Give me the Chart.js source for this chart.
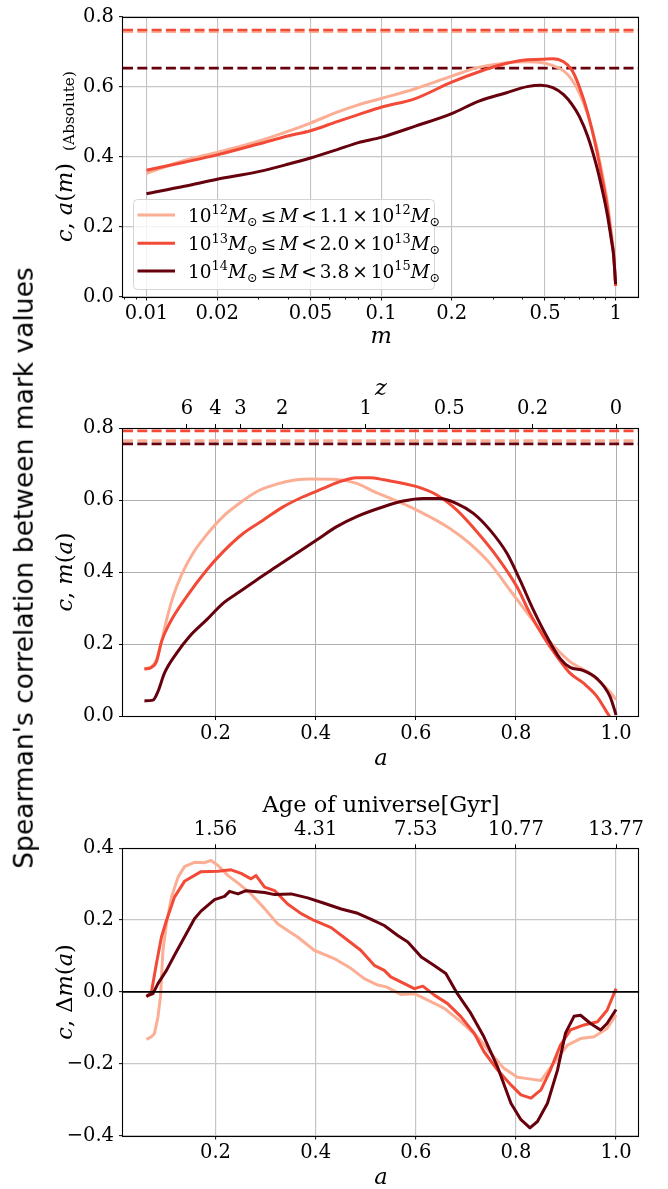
<!DOCTYPE html>
<html>
<head>
<meta charset="utf-8">
<script src="https://cdn.jsdelivr.net/npm/chart.js@4.4.1/dist/chart.umd.min.js"></script>
<style>
  html, body { margin: 0; padding: 0; background: #fff; }
  #fig { position: relative; width: 668px; height: 1189px; overflow: hidden; }
  canvas { position: absolute; left: 0; }
  #ylab { position: absolute; left: 24px; top: 568px; transform: translate(-50%, -50%) rotate(-90deg);
          font: 26.5px "DejaVu Sans"; line-height: 1; white-space: nowrap; color: #000; }
</style>
</head>
<body>
<div id="fig">
  <canvas id="c1" width="668" height="348" style="top:0"></canvas>
  <canvas id="c2" width="668" height="420" style="top:348px"></canvas>
  <canvas id="c3" width="668" height="421" style="top:768px"></canvas>
  <div id="ylab">Spearman's correlation between mark values</div>
</div>
<script>
// ---- panel 1: c, a(m) against m (log axis)
const M_GRID = [0.01, 0.0145, 0.02, 0.03, 0.04, 0.05, 0.065, 0.08, 0.1, 0.14, 0.2, 0.26, 0.34,
  0.42, 0.48, 0.54, 0.6, 0.65, 0.7, 0.76, 0.83, 0.88, 0.92, 0.96, 0.98, 1.0];
const ABS_LIGHT = [0.352, 0.389, 0.412, 0.444, 0.472, 0.496, 0.527, 0.548, 0.566, 0.594, 0.630, 0.655, 0.668,
  0.671, 0.669, 0.660, 0.645, 0.620, 0.582, 0.520, 0.428, 0.345, 0.273, 0.180, 0.128, 0.030];
const ABS_MID = [0.361, 0.384, 0.405, 0.436, 0.459, 0.474, 0.500, 0.520, 0.541, 0.566, 0.613, 0.642, 0.666,
  0.677, 0.678, 0.680, 0.671, 0.648, 0.600, 0.525, 0.418, 0.330, 0.259, 0.165, 0.120, 0.030];
const ABS_DARK = [0.294, 0.315, 0.335, 0.357, 0.378, 0.396, 0.420, 0.440, 0.455, 0.487, 0.523, 0.558, 0.582,
  0.600, 0.604, 0.597, 0.577, 0.550, 0.515, 0.458, 0.372, 0.300, 0.237, 0.160, 0.118, 0.035];
const REF_ABS = [0.757, 0.762, 0.653];
const M_LIM = [0.00794, 1.2589];
const M_TICKS = [0.01, 0.02, 0.05, 0.1, 0.2, 0.5, 1];
const M_TICK_LABELS = ['0.01', '0.02', '0.05', '0.1', '0.2', '0.5', '1'];
const M_MINOR = [0.008, 0.009, 0.03, 0.04, 0.06, 0.07, 0.08, 0.09, 0.3, 0.4, 0.6, 0.7, 0.8, 0.9];
const Y_TICKS_ABS = [0, 0.2, 0.4, 0.6, 0.8];

// ---- panel 2: c, m(a) against a
const A_M_LIGHT = [0.058, 0.072, 0.082, 0.092, 0.102, 0.115, 0.132, 0.155, 0.182, 0.215, 0.248, 0.282, 0.322, 0.362,
  0.388, 0.442, 0.482, 0.52, 0.54, 0.602, 0.668, 0.708, 0.748, 0.788, 0.828, 0.868, 0.908, 0.948, 0.988, 1.0];
const M_LIGHT = [0.132, 0.137, 0.156, 0.206, 0.266, 0.331, 0.392, 0.452, 0.503, 0.554, 0.591, 0.623, 0.644, 0.656,
  0.658, 0.657, 0.646, 0.621, 0.610, 0.572, 0.521, 0.479, 0.424, 0.350, 0.276, 0.206, 0.151, 0.118, 0.067, 0.045];
const A_M_MID = [0.058, 0.072, 0.082, 0.092, 0.108, 0.142, 0.182, 0.215, 0.255, 0.295, 0.335, 0.375, 0.415, 0.442,
  0.482, 0.508, 0.537, 0.602, 0.642, 0.682, 0.722, 0.762, 0.802, 0.828, 0.855, 0.882, 0.908, 0.935, 0.962, 0.985, 1.0];
const M_MID = [0.130, 0.135, 0.151, 0.206, 0.257, 0.331, 0.405, 0.456, 0.507, 0.544, 0.581, 0.609, 0.632, 0.648,
  0.662, 0.662, 0.656, 0.637, 0.614, 0.572, 0.512, 0.443, 0.359, 0.285, 0.220, 0.165, 0.119, 0.091, 0.054, 0.003, -0.025];
const A_M_DARK = [0.058, 0.075, 0.085, 0.098, 0.122, 0.148, 0.182, 0.215, 0.248, 0.282, 0.322, 0.362, 0.402, 0.442,
  0.482, 0.537, 0.575, 0.615, 0.648, 0.682, 0.715, 0.748, 0.782, 0.808, 0.835, 0.862, 0.888, 0.908, 0.935, 0.962, 0.988, 1.0];
const M_DARK = [0.042, 0.044, 0.068, 0.119, 0.174, 0.221, 0.267, 0.313, 0.345, 0.378, 0.415, 0.452, 0.489, 0.526,
  0.554, 0.582, 0.597, 0.604, 0.604, 0.590, 0.563, 0.517, 0.452, 0.378, 0.294, 0.220, 0.160, 0.135, 0.126, 0.104, 0.054, 0.003];
const REF_M = [0.765, 0.792, 0.756];
const Z_LABELS = ['6', '4', '3', '2', '1', '0.5', '0.2', '0'];
const Z_VALUES = [6, 4, 3, 2, 1, 0.5, 0.2, 0];

// ---- panel 3: c, Δm(a) against a
const A_D_LIGHT = [0.062, 0.072, 0.078, 0.085, 0.090, 0.095, 0.102, 0.112, 0.125, 0.138, 0.158, 0.178, 0.191, 0.205,
  0.225, 0.245, 0.271, 0.298, 0.324, 0.344, 0.364, 0.397, 0.437, 0.471, 0.497, 0.524, 0.541, 0.570, 0.597, 0.624,
  0.657, 0.690, 0.723, 0.750, 0.776, 0.803, 0.830, 0.850, 0.863, 0.883, 0.903, 0.929, 0.956, 0.982, 1.0];
const D_LIGHT = [-0.132, -0.125, -0.116, -0.070, -0.014, 0.116, 0.190, 0.264, 0.319, 0.349, 0.361, 0.360, 0.366, 0.352,
  0.324, 0.303, 0.273, 0.232, 0.190, 0.171, 0.153, 0.116, 0.093, 0.065, 0.037, 0.019, 0.014, -0.007, -0.005, -0.023,
  -0.046, -0.083, -0.125, -0.171, -0.213, -0.238, -0.243, -0.247, -0.222, -0.185, -0.148, -0.130, -0.125, -0.102, -0.064];
const A_D_MID = [0.062, 0.072, 0.082, 0.092, 0.102, 0.118, 0.138, 0.171, 0.205, 0.231, 0.251, 0.271, 0.281, 0.298,
  0.318, 0.344, 0.371, 0.397, 0.431, 0.464, 0.490, 0.517, 0.537, 0.550, 0.570, 0.597, 0.614, 0.637, 0.663, 0.690,
  0.717, 0.736, 0.763, 0.790, 0.810, 0.830, 0.850, 0.869, 0.889, 0.909, 0.936, 0.963, 0.982, 1.0];
const D_MID = [-0.014, 0.000, 0.079, 0.153, 0.199, 0.264, 0.308, 0.335, 0.336, 0.340, 0.330, 0.315, 0.324, 0.292,
  0.282, 0.245, 0.218, 0.199, 0.179, 0.144, 0.116, 0.074, 0.060, 0.042, 0.028, 0.009, 0.016, -0.009, -0.032, -0.069,
  -0.116, -0.166, -0.217, -0.259, -0.287, -0.296, -0.273, -0.217, -0.148, -0.106, -0.092, -0.083, -0.051, 0.009];
const A_D_DARK = [0.062, 0.075, 0.085, 0.102, 0.118, 0.138, 0.158, 0.171, 0.198, 0.218, 0.228, 0.245, 0.261, 0.298,
  0.318, 0.351, 0.384, 0.417, 0.451, 0.484, 0.510, 0.537, 0.564, 0.584, 0.611, 0.636, 0.660, 0.683, 0.710, 0.736,
  0.763, 0.790, 0.810, 0.828, 0.843, 0.863, 0.883, 0.899, 0.916, 0.929, 0.949, 0.969, 0.982, 1.0];
const D_DARK = [-0.012, -0.005, 0.023, 0.060, 0.102, 0.153, 0.204, 0.225, 0.257, 0.266, 0.280, 0.273, 0.282, 0.277,
  0.271, 0.273, 0.262, 0.247, 0.231, 0.219, 0.203, 0.185, 0.157, 0.139, 0.097, 0.074, 0.051, -0.005, -0.060, -0.125,
  -0.208, -0.310, -0.356, -0.379, -0.361, -0.310, -0.218, -0.115, -0.068, -0.065, -0.088, -0.106, -0.088, -0.049];
const AGE_TICK_A = [0.2, 0.4, 0.6, 0.8, 1.0];
const AGE_LABELS = ['1.56', '4.31', '7.53', '10.77', '13.77'];

const A_LIM = [0.0152, 1.046];
const A_TICKS = [0.2, 0.4, 0.6, 0.8, 1.0];
const Y_TICKS_M = [0, 0.2, 0.4, 0.6, 0.8];
const Y_TICKS_D = [-0.4, -0.2, 0, 0.2, 0.4];

// legend text bits
const LEG_LO_EXP = ['12', '13', '14'];
const LEG_HI_COEF = ['1.1', '2.0', '3.8'];
const LEG_HI_EXP = ['12', '13', '15'];

// ---- styling
const SERIF = 'DejaVu Serif';
const TICK_FONT = { family: SERIF, size: 19.5 };
const COLORS = ['#fcae95', '#f24a36', '#67000d'];
const RIGHT_PAD = 668 - 639.1;

function fixSize(px) {
  return function (scale) {
    if (scale.isHorizontal()) scale.height = px; else scale.width = px;
  };
}
function setTicks(values) {
  return function (scale) { scale.ticks = values.map(v => ({ value: v })); };
}
function fmtY(v) {
  const s = Math.abs(v).toFixed(1);
  return v < -1e-9 ? '\u2212' + s : s;
}
function curve(xs, ys, i, smooth) {
  return {
    data: xs.map((x, k) => ({ x: x, y: ys[k] })),
    borderColor: COLORS[i], borderWidth: 3, order: 3 - i,
    borderJoinStyle: 'round', pointRadius: 0, fill: false,
    cubicInterpolationMode: smooth ? 'monotone' : 'default', tension: 0
  };
}
function refLine(lim, v, i) {
  return {
    data: [{ x: lim[0], y: v }, { x: lim[1], y: v }],
    borderColor: COLORS[i], borderWidth: 2.6, borderDash: [10, 4.3], order: 12 - i,
    pointRadius: 0, fill: false
  };
}

function partFont(p, size) {
  let s = size * (p.scale || 1);
  if (p.sup || p.sub) s = size * 0.7;
  return (p.it ? 'italic ' : '') + s + 'px "' + SERIF + '"';
}
function mathWidth(ctx, parts, size) {
  let w = 0;
  for (const p of parts) { ctx.font = partFont(p, size); w += ctx.measureText(p.t).width + (p.gap || 0); }
  return w;
}
function drawMath(ctx, parts, x, y, size) {
  ctx.textBaseline = 'alphabetic';
  ctx.textAlign = 'left';
  ctx.fillStyle = '#000';
  for (const p of parts) {
    ctx.font = partFont(p, size);
    const dy = p.sup ? -0.42 * size : p.sub ? 0.22 * size : (p.dy || 0);
    ctx.fillText(p.t, x, y + dy);
    x += ctx.measureText(p.t).width + (p.gap || 0);
  }
}
function legendParts(i) {
  return [
    { t: '10' }, { t: LEG_LO_EXP[i], sup: 1 }, { t: 'M', it: 1 }, { t: '\u2299', sub: 1, gap: 3 },
    { t: '\u2264', gap: 3 }, { t: 'M', it: 1, gap: 3 }, { t: '<', gap: 3 },
    { t: LEG_HI_COEF[i], gap: 3 }, { t: '\u00d7', gap: 3 }, { t: '10' }, { t: LEG_HI_EXP[i], sup: 1 },
    { t: 'M', it: 1 }, { t: '\u2299', sub: 1 }
  ];
}

function axisScale(extra) {
  return Object.assign({
    bounds: 'data',
    ticks: { font: TICK_FONT, color: '#000', autoSkip: false, maxRotation: 0, minRotation: 0 },
    border: { display: false }
  }, extra);
}
function gridOpts(color, width) {
  return { color: color, lineWidth: width, tickColor: '#000', tickLength: 4, tickWidth: 1 };
}

// frame, titles and extras drawn on top of each panel
function decor(opt) {
  return {
    id: 'decor',
    afterDatasetsDraw(chart) {
      const ctx = chart.ctx, a = chart.chartArea;
      ctx.save();
      if (opt.zeroLine) {
        const y0 = chart.scales.y.getPixelForValue(0);
        ctx.strokeStyle = '#000'; ctx.lineWidth = 1.6;
        ctx.beginPath(); ctx.moveTo(a.left, y0); ctx.lineTo(a.right, y0); ctx.stroke();
      }
      ctx.restore();
    },
    afterDraw(chart) {
      const ctx = chart.ctx, a = chart.chartArea;
      ctx.save();
      // spines
      const l = Math.round(a.left), t = Math.round(a.top), r = Math.round(a.right), b = Math.round(a.bottom);
      ctx.strokeStyle = '#000'; ctx.lineWidth = 1.1;
      ctx.strokeRect(l - 0.5, t + 0.5, r - l, b - t);
      // minor ticks on the log axis
      if (opt.minor) {
        const xs = chart.scales.x;
        ctx.lineWidth = 0.9;
        ctx.beginPath();
        for (const v of opt.minor) {
          const px = Math.round(xs.getPixelForValue(v)) + 0.5;
          if (px < a.left || px > a.right) continue;
          ctx.moveTo(px, b); ctx.lineTo(px, b + 2.5);
        }
        ctx.stroke();
      }
      // y title (rotated)
      ctx.save();
      ctx.translate(opt.yTitleX, (a.top + a.bottom) / 2);
      ctx.rotate(-Math.PI / 2);
      const w = mathWidth(ctx, opt.yTitle, 22.5);
      drawMath(ctx, opt.yTitle, -w / 2, 0, 22.5);
      ctx.restore();
      // bottom x title
      const cx = (a.left + a.right) / 2;
      let wx = mathWidth(ctx, opt.xTitle, 22.5);
      drawMath(ctx, opt.xTitle, cx - wx / 2, opt.xTitleY, 22.5);
      if (opt.topTitle) {
        wx = mathWidth(ctx, opt.topTitle, 22.5);
        drawMath(ctx, opt.topTitle, cx - wx / 2, opt.topTitleY, 22.5);
      }
      if (opt.legend) {
        const L = opt.legend;
        ctx.beginPath();
        ctx.roundRect(L.x0 + 0.5, L.y0 + 0.5, L.x1 - L.x0, L.y1 - L.y0, 4);
        ctx.fillStyle = 'rgba(255,255,255,0.8)'; ctx.fill();
        ctx.strokeStyle = '#d4d4d4'; ctx.lineWidth = 1; ctx.stroke();
        for (let i = 0; i < 3; i++) {
          const y = L.rows[i];
          ctx.strokeStyle = COLORS[i]; ctx.lineWidth = 3;
          ctx.beginPath(); ctx.moveTo(L.lineX0, y); ctx.lineTo(L.lineX1, y); ctx.stroke();
          drawMath(ctx, legendParts(i), L.textX, y + 7, 18.5);
        }
      }
      ctx.restore();
    }
  };
}

const baseOptions = {
  responsive: false, animation: false, devicePixelRatio: 1,
  plugins: { legend: { display: false }, tooltip: { enabled: false } },
  elements: { point: { radius: 0 }, line: { tension: 0 } }
};

// ---------------- panel 1
new Chart(document.getElementById('c1'), {
  type: 'line',
  data: {
    datasets: [
      refLine(M_LIM, REF_ABS[0], 0), refLine(M_LIM, REF_ABS[1], 1), refLine(M_LIM, REF_ABS[2], 2),
      curve(M_GRID, ABS_LIGHT, 0, true), curve(M_GRID, ABS_MID, 1, true), curve(M_GRID, ABS_DARK, 2, true)
    ]
  },
  options: Object.assign({}, baseOptions, {
    layout: { padding: { left: 0, right: RIGHT_PAD, top: 9, bottom: 0 } },
    scales: {
      x: axisScale({
        type: 'logarithmic', min: M_LIM[0], max: M_LIM[1],
        afterFit: fixSize(348 - 296.5), afterBuildTicks: setTicks(M_TICKS),
        ticks: { font: TICK_FONT, color: '#000', autoSkip: false, maxRotation: 0, minRotation: 0, padding: 2,
                 callback: (v, i) => M_TICK_LABELS[i] },
        grid: gridOpts('#c2c2c2', 1.1)
      }),
      y: axisScale({
        min: 0, max: 0.8, afterFit: fixSize(123), afterBuildTicks: setTicks(Y_TICKS_ABS),
        ticks: { font: TICK_FONT, color: '#000', padding: 5, callback: fmtY },
        grid: gridOpts('#c8c8c8', 1.3)
      })
    }
  }),
  plugins: [decor({
    minor: M_MINOR, yTitleX: 72,
    yTitle: [{ t: 'c', it: 1 }, { t: ', ' }, { t: 'a', it: 1 }, { t: '(' }, { t: 'm', it: 1 }, { t: ')', gap: 12 },
             { t: '(Absolute)', scale: 0.68, dy: 2 }],
    xTitle: [{ t: 'm', it: 1 }], xTitleY: 343,
    legend: { x0: 133, y0: 199, x1: 434, y1: 289, rows: [215, 243.3, 271], lineX0: 137.5, lineX1: 175, textX: 188 }
  })]
});

// ---------------- panel 2
new Chart(document.getElementById('c2'), {
  type: 'line',
  data: {
    datasets: [
      refLine(A_LIM, REF_M[0], 0), refLine(A_LIM, REF_M[1], 1), refLine(A_LIM, REF_M[2], 2),
      curve(A_M_LIGHT, M_LIGHT, 0, true), curve(A_M_MID, M_MID, 1, true), curve(A_M_DARK, M_DARK, 2, true)
    ]
  },
  options: Object.assign({}, baseOptions, {
    layout: { padding: { left: 0, right: RIGHT_PAD, top: 0, bottom: 0 } },
    scales: {
      x: axisScale({
        type: 'linear', min: A_LIM[0], max: A_LIM[1],
        afterFit: fixSize(420 - 368), afterBuildTicks: setTicks(A_TICKS),
        ticks: { font: TICK_FONT, color: '#000', autoSkip: false, maxRotation: 0, minRotation: 0, padding: 2,
                 callback: v => v.toFixed(1) },
        grid: gridOpts('#b0b0b0', 1)
      }),
      x2: axisScale({
        type: 'linear', position: 'top', min: A_LIM[0], max: A_LIM[1],
        afterFit: fixSize(80), afterBuildTicks: setTicks(Z_VALUES.map(z => 1 / (1 + z))),
        ticks: { font: TICK_FONT, color: '#000', autoSkip: false, maxRotation: 0, minRotation: 0, padding: 3,
                 callback: (v, i) => Z_LABELS[i] },
        grid: Object.assign(gridOpts('#b0b0b0', 1), { drawOnChartArea: false })
      }),
      y: axisScale({
        min: 0, max: 0.8, afterFit: fixSize(123), afterBuildTicks: setTicks(Y_TICKS_M),
        ticks: { font: TICK_FONT, color: '#000', padding: 5, callback: fmtY },
        grid: gridOpts('#b0b0b0', 1)
      })
    }
  }),
  plugins: [decor({
    yTitleX: 72,
    yTitle: [{ t: 'c', it: 1 }, { t: ', ' }, { t: 'm', it: 1 }, { t: '(' }, { t: 'a', it: 1 }, { t: ')' }],
    xTitle: [{ t: 'a', it: 1 }], xTitleY: 417,
    topTitle: [{ t: 'z', it: 1 }], topTitleY: 47
  })]
});

// ---------------- panel 3
new Chart(document.getElementById('c3'), {
  type: 'line',
  data: {
    datasets: [
      curve(A_D_LIGHT, D_LIGHT, 0, false), curve(A_D_MID, D_MID, 1, false), curve(A_D_DARK, D_DARK, 2, false)
    ]
  },
  options: Object.assign({}, baseOptions, {
    layout: { padding: { left: 0, right: RIGHT_PAD, top: 0, bottom: 0 } },
    scales: {
      x: axisScale({
        type: 'linear', min: A_LIM[0], max: A_LIM[1],
        afterFit: fixSize(421 - 367.5), afterBuildTicks: setTicks(A_TICKS),
        ticks: { font: TICK_FONT, color: '#000', autoSkip: false, maxRotation: 0, minRotation: 0, padding: 2,
                 callback: v => v.toFixed(1) },
        grid: gridOpts('#c4c4c4', 1.2)
      }),
      x2: axisScale({
        type: 'linear', position: 'top', min: A_LIM[0], max: A_LIM[1],
        afterFit: fixSize(80.3), afterBuildTicks: setTicks(AGE_TICK_A),
        ticks: { font: TICK_FONT, color: '#000', autoSkip: false, maxRotation: 0, minRotation: 0, padding: 3,
                 callback: (v, i) => AGE_LABELS[i] },
        grid: Object.assign(gridOpts('#b0b0b0', 1), { drawOnChartArea: false })
      }),
      y: axisScale({
        min: -0.4, max: 0.4, afterFit: fixSize(123), afterBuildTicks: setTicks(Y_TICKS_D),
        ticks: { font: TICK_FONT, color: '#000', padding: 5, callback: fmtY },
        grid: gridOpts('#c8c8c8', 1.3)
      })
    }
  }),
  plugins: [decor({
    zeroLine: true, yTitleX: 72,
    yTitle: [{ t: 'c', it: 1 }, { t: ', ' }, { t: '\u0394' }, { t: 'm', it: 1 }, { t: '(' }, { t: 'a', it: 1 }, { t: ')' }],
    xTitle: [{ t: 'a', it: 1 }], xTitleY: 416,
    topTitle: [{ t: 'Age of universe[Gyr]' }], topTitleY: 44
  })]
});
</script>
</body>
</html>
